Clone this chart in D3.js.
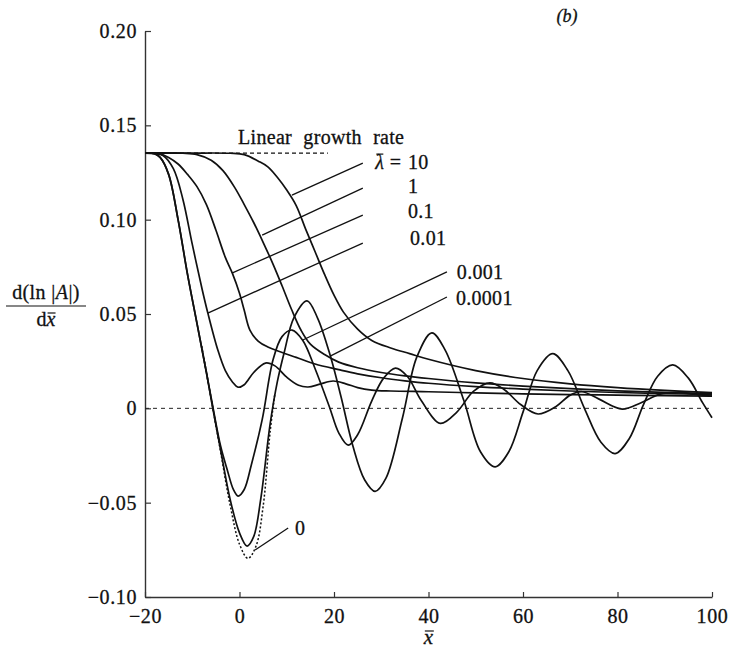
<!DOCTYPE html>
<html>
<head>
<meta charset="utf-8">
<script src="https://cdn.jsdelivr.net/npm/d3@7"></script>
<style>
  body { margin: 0; background: #fff; }
  svg text { font-family: "Liberation Serif", "DejaVu Serif", "Noto Serif", serif; fill: #111; stroke: #111; stroke-width: 0.3px; }
</style>
</head>
<body>
<svg id="chart" width="730" height="654"></svg>
<script>
// axis ticks
const xTicks = [-20, 0, 20, 40, 60, 80, 100];
const xTickLabels = ["\u221220", "0", "20", "40", "60", "80", "100"];
const yTicks = [-0.10, -0.05, 0, 0.05, 0.10, 0.15, 0.20];
const yTickLabels = ["\u22120.10", "\u22120.05", "0", "0.05", "0.10", "0.15", "0.20"];

// linear growth rate (dashed)
const linearRate = 0.1353;
const linearRateEnd = 18.7;

// curves, one per lambda-bar, [x, d(ln|A|)/dx]
const lam10 = [[-20,0.1353],[-10,0.1353],[-2,0.1352],[1,0.1345],[4,0.131],[6,0.128],[8,0.1225],[10,0.1157],[12,0.1075],[14,0.095],[16,0.083],[18,0.071],[20,0.060],[22,0.051],[25,0.042],[28,0.036],[32,0.032],[36,0.029],[40,0.026],[50,0.020],[60,0.0158],[70,0.013],[80,0.011],[90,0.0095],[100,0.0083]];
const lam1 = [[-20,0.1353],[-12,0.1352],[-9,0.1345],[-6,0.1315],[-3.5,0.126],[-1,0.117],[1,0.108],[3,0.0985],[5,0.088],[7,0.077],[9,0.065],[11,0.0525],[13,0.0415],[15,0.034],[18,0.0285],[21,0.0245],[25,0.0215],[30,0.019],[35,0.0172],[40,0.0158],[50,0.0135],[60,0.0118],[70,0.0104],[80,0.0093],[90,0.0085],[100,0.0078]];
const lam01 = [[-20,0.1353],[-17,0.135],[-15,0.133],[-13,0.1295],[-11,0.124],[-9,0.1175],[-7,0.108],[-5,0.0945],[-3,0.080],[-1.5,0.0715],[0,0.061],[1,0.052],[2.2,0.0415],[4,0.0355],[6,0.0325],[8.6,0.030],[12,0.027],[16,0.0235],[21,0.0205],[25,0.0183],[30,0.0162],[35,0.0146],[40,0.0133],[50,0.0115],[60,0.0102],[70,0.0092],[80,0.0084],[90,0.0078],[100,0.0073]];
const lam001 = [[-20,0.1353],[-18,0.135],[-16.2,0.134],[-14,0.127],[-12,0.111],[-10,0.087],[-7.9,0.063],[-6.7,0.0505],[-4.6,0.031],[-3,0.020],[-1.5,0.014],[-0.3,0.0112],[1,0.0125],[3,0.019],[5.5,0.024],[7.5,0.0225],[10,0.0165],[12.5,0.0122],[14.5,0.0113],[17,0.0128],[19.8,0.0145],[22.5,0.013],[25,0.011],[28,0.0097],[32,0.0092],[40,0.0088],[50,0.0082],[60,0.0077],[70,0.0073],[80,0.007],[90,0.0067],[100,0.0065]];
const lam0001 = [[-20,0.1353],[-18,0.135],[-16.8,0.133],[-15,0.124],[-13,0.100],[-11,0.071],[-9,0.045],[-7,0.019],[-5.8,0.003],[-4,-0.020],[-2.6,-0.0325],[-1.3,-0.043],[-0.3,-0.0465],[1,-0.043],[2.5,-0.030],[4.8,-0.006],[7.1,0.0257],[9,0.038],[11.1,0.0415],[13.4,0.036],[16,0.021],[19,0.001],[21,-0.013],[23,-0.0195],[25,-0.014],[28,0.004],[30.5,0.016],[33,0.0213],[35.5,0.017],[38.5,0.004],[42.5,-0.008],[46,-0.002],[49.5,0.009],[53,0.0135],[56,0.010],[59.5,0.002],[63.2,-0.003],[67,0.001],[70,0.007],[72.5,0.0088],[76,0.005],[81,-0.0004],[85,0.003],[89,0.0075],[93,0.0085],[97,0.0072],[100,0.0065]];
const lam00001 = [[-20,0.1353],[-18,0.135],[-16.8,0.133],[-15,0.124],[-13,0.100],[-11,0.071],[-9,0.045],[-7,0.019],[-5.8,0.002],[-4,-0.022],[-2,-0.048],[0,-0.066],[1.6,-0.073],[3,-0.068],[4.5,-0.048],[6.5,-0.008],[8,0.014],[9.5,0.030],[11.5,0.048],[14.3,0.057],[16.5,0.048],[19.2,0.028],[21.5,0.006],[24,-0.020],[26.5,-0.038],[28.7,-0.044],[31,-0.037],[34.5,-0.005],[37.5,0.027],[40.7,0.040],[43.5,0.031],[47.5,0.004],[51,-0.023],[54.1,-0.031],[57,-0.023],[60,-0.002],[63,0.020],[66.3,0.029],[69.5,0.020],[73,0.000],[76.5,-0.018],[79.5,-0.024],[82.5,-0.016],[85.5,0.002],[88.5,0.017],[91.7,0.023],[95,0.016],[98,0.003],[100,-0.005]];
// lambda-bar = 0 (dotted), only distinct near the first minimum
const lam0 = [[-8,0.033],[-6,0.005],[-4,-0.023],[-2,-0.051],[0,-0.072],[1.8,-0.0795],[3.5,-0.073],[5,-0.052],[6.5,-0.012],[7.5,0.008]];

const curveNames = ["10", "1", "0.1", "0.01", "0.001", "0.0001", "0"];

const svg = d3.select("#chart");
const x = d3.scaleLinear().domain([-20, 100]).range([145, 712]);
const y = d3.scaleLinear().domain([-0.10, 0.20]).range([597, 31]);
const serif = "'Liberation Serif', 'DejaVu Serif', serif";

// axes, ticks pointing inward
svg.append("g")
  .attr("transform", "translate(0,597)")
  .call(d3.axisBottom(x).tickValues(xTicks)
    .tickFormat((d, i) => xTickLabels[i])
    .tickSizeInner(-5).tickSizeOuter(0).tickPadding(12));
svg.append("g")
  .attr("transform", "translate(145,0)")
  .call(d3.axisLeft(y).tickValues(yTicks)
    .tickFormat((d, i) => yTickLabels[i])
    .tickSizeInner(-6).tickSizeOuter(0).tickPadding(8));
svg.selectAll("g").attr("font-family", serif);
svg.selectAll(".domain").attr("stroke", "#333").attr("stroke-width", 1.4);
svg.selectAll(".tick line").attr("stroke", "#333").attr("stroke-width", 1.2);
svg.selectAll(".tick text").attr("font-size", 20).attr("fill", "#111")
  .style("letter-spacing", "0.6px");

// zero line
svg.append("line")
  .attr("x1", x(-20)).attr("x2", x(100))
  .attr("y1", y(0)).attr("y2", y(0))
  .attr("stroke", "#222").attr("stroke-width", 1).attr("stroke-dasharray", "4,4");

// linear growth rate
svg.append("line")
  .attr("x1", x(-20)).attr("x2", x(linearRateEnd))
  .attr("y1", y(linearRate)).attr("y2", y(linearRate))
  .attr("stroke", "#111").attr("stroke-width", 1.3).attr("stroke-dasharray", "4,3");

const line = d3.line()
  .x(d => x(d[0])).y(d => y(d[1]))
  .curve(d3.curveCatmullRom.alpha(0.5));

[lam10, lam1, lam01, lam001, lam0001, lam00001].forEach(s => {
  svg.append("path").datum(s)
    .attr("d", line)
    .attr("fill", "none").attr("stroke", "#111").attr("stroke-width", 1.7);
});
svg.append("path").datum(lam0)
  .attr("d", line)
  .attr("fill", "none").attr("stroke", "#111").attr("stroke-width", 1.5)
  .attr("stroke-dasharray", "2,2");

// leader lines: [label end, curve point] in data units
const leaders = [
  [[26.1, 0.130], [11.1, 0.113]],
  [[26.1, 0.1167], [4.8, 0.0918]],
  [[26.1, 0.1024], [-1.6, 0.0717]],
  [[26.1, 0.0876], [-6.7, 0.0505]],
  [[43.9, 0.0723], [13.4, 0.0362]],
  [[43.9, 0.059], [19.2, 0.0277]],
  [[10.3, -0.0634], [3.3, -0.0751]]
];
const labelAt = [[35.66, 0.1268], [35.66, 0.1141], [35.66, 0.1009], [36.1, 0.0866], [46.0, 0.0685], [45.8, 0.0548], [11.75, -0.0672]];

leaders.forEach(l => {
  svg.append("line")
    .attr("x1", x(l[0][0])).attr("y1", y(l[0][1]))
    .attr("x2", x(l[1][0])).attr("y2", y(l[1][1]))
    .attr("stroke", "#111").attr("stroke-width", 1.3);
});
curveNames.forEach((n, i) => {
  svg.append("text")
    .attr("x", x(labelAt[i][0])).attr("y", y(labelAt[i][1]))
    .attr("font-family", serif).attr("font-size", 20)
    .style("letter-spacing", "0.3px")
    .text(n);
});

// lambda-bar with a drawn macron, then "="
const lx = x(labelAt[0][0]), ly = y(labelAt[0][1]);
svg.append("text")
  .attr("x", lx - 7).attr("y", ly)
  .attr("text-anchor", "end")
  .attr("font-family", serif).attr("font-size", 20)
  .text("=");
const lam = svg.append("text")
  .attr("x", lx - 24).attr("y", ly)
  .attr("text-anchor", "end")
  .attr("font-family", serif).attr("font-size", 20).attr("font-style", "italic")
  .text("\u03BB");
const lb = lam.node().getBBox();
svg.append("line")
  .attr("x1", lb.x + 2).attr("x2", lb.x + lb.width - 1)
  .attr("y1", ly - 15).attr("y2", ly - 15)
  .attr("stroke", "#111").attr("stroke-width", 1.2);

svg.append("text")
  .attr("x", x(-0.3)).attr("y", y(0.1401))
  .attr("font-family", serif).attr("font-size", 20)
  .style("word-spacing", "6px").style("letter-spacing", "0.3px")
  .text("Linear growth rate");

svg.append("text")
  .attr("x", 567).attr("y", 22)
  .attr("text-anchor", "middle")
  .attr("font-family", serif).attr("font-size", 18).attr("font-style", "italic")
  .text("(b)");

// axis titles, x-bar with a drawn macron
const xt = svg.append("text")
  .attr("x", 428.5).attr("y", 644)
  .attr("text-anchor", "middle")
  .attr("font-family", serif).attr("font-size", 21).attr("font-style", "italic")
  .text("x");
const xb = xt.node().getBBox();
svg.append("line")
  .attr("x1", xb.x + 2).attr("x2", xb.x + xb.width)
  .attr("y1", 644 - 13).attr("y2", 644 - 13)
  .attr("stroke", "#111").attr("stroke-width", 1.2);

const yl = svg.append("g").attr("transform", "translate(46,0)").attr("font-family", serif);
yl.append("text")
  .attr("y", 299).attr("text-anchor", "middle")
  .attr("font-size", 20).style("letter-spacing", "0.4px")
  .html('d(ln |<tspan font-style="italic">A</tspan>|)');
yl.append("line")
  .attr("x1", -40).attr("x2", 40).attr("y1", 306).attr("y2", 306)
  .attr("stroke", "#111").attr("stroke-width", 1.2);
const dx = yl.append("text")
  .attr("y", 326).attr("text-anchor", "middle")
  .attr("font-size", 20);
dx.append("tspan").text("d");
const dxx = dx.append("tspan").attr("font-style", "italic").text("x");
const db = dxx.node().getBBox();
yl.append("line")
  .attr("x1", db.x + 2).attr("x2", db.x + db.width)
  .attr("y1", 326 - 13).attr("y2", 326 - 13)
  .attr("stroke", "#111").attr("stroke-width", 1.2);
</script>
</body>
</html>
